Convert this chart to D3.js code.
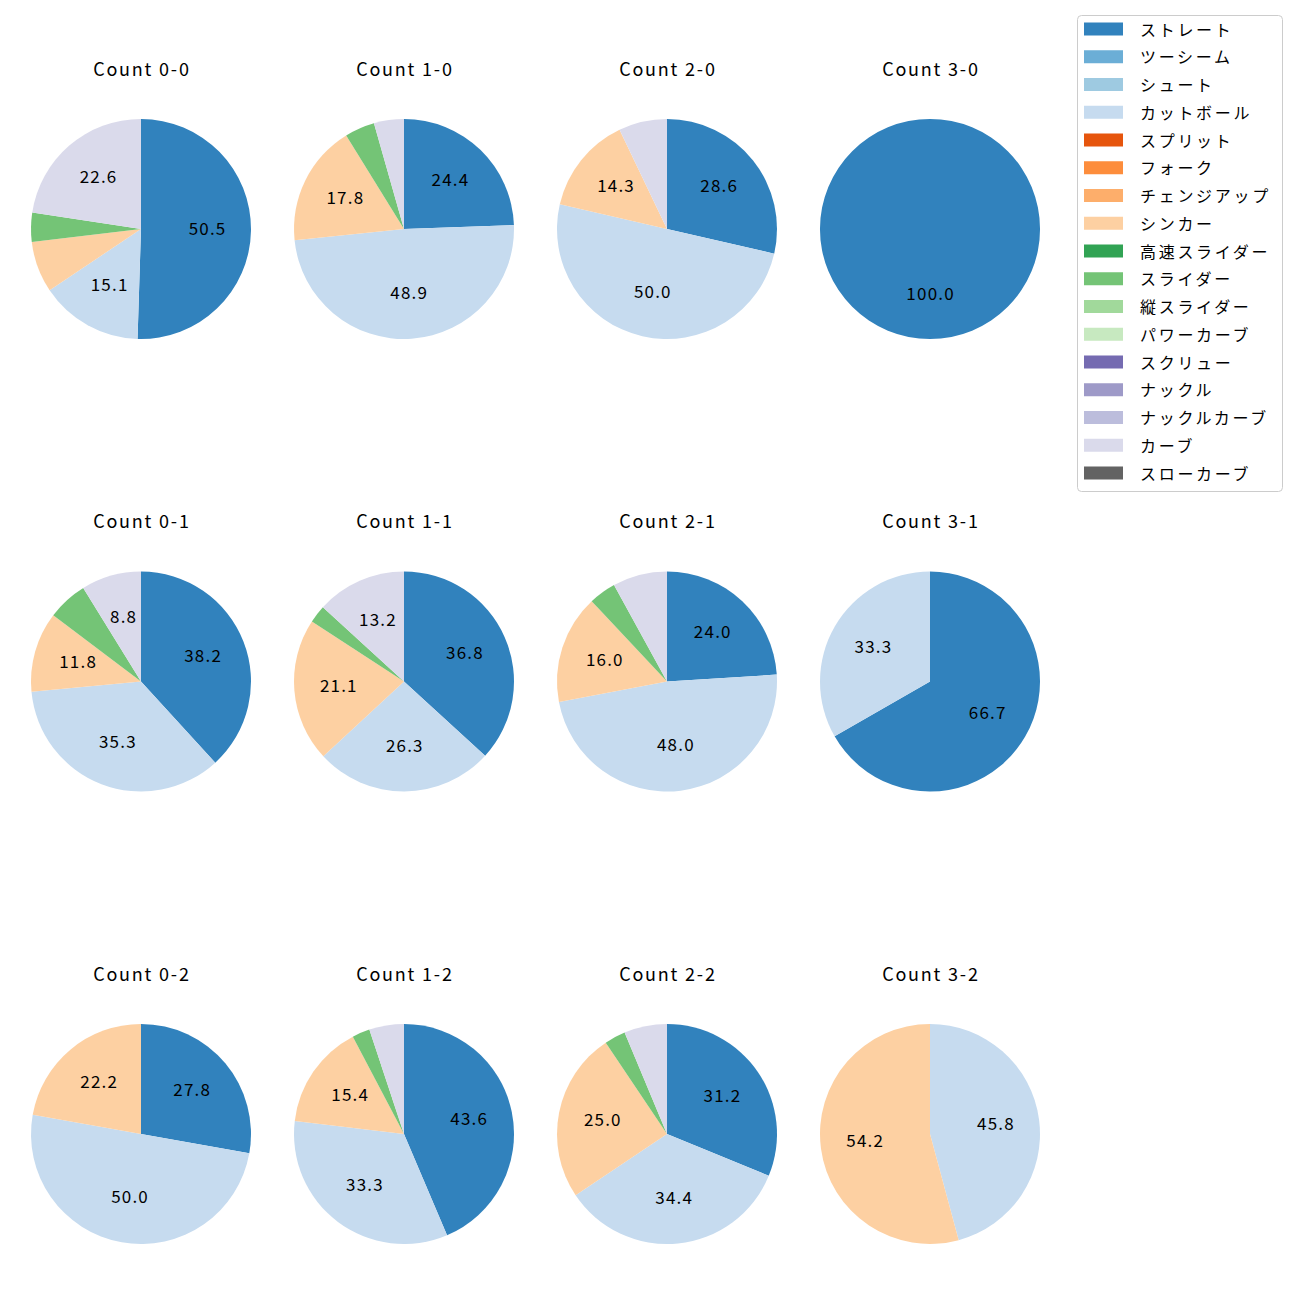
<!DOCTYPE html>
<html><head><meta charset="utf-8">
<script src="https://cdn.jsdelivr.net/npm/d3@7"></script>
<style>body{margin:0;background:#fff}svg{display:block}</style>
</head><body>
<script>
const pitchTypes = ["ストレート","ツーシーム","シュート","カットボール","スプリット","フォーク","チェンジアップ","シンカー","高速スライダー","スライダー","縦スライダー","パワーカーブ","スクリュー","ナックル","ナックルカーブ","カーブ","スローカーブ"];
const pitchColors = ["#3182bd","#6baed6","#9ecae1","#c6dbef","#e6550d","#fd8d3c","#fdae6b","#fdd0a2","#31a354","#74c476","#a1d99b","#c7e9c0","#756bb1","#9e9ac8","#bcbddc","#dadaeb","#636363"];
const countLabels = ["Count 0-0","Count 1-0","Count 2-0","Count 3-0","Count 0-1","Count 1-1","Count 2-1","Count 3-1","Count 0-2","Count 1-2","Count 2-2","Count 3-2"];
// percentages per count, in countLabels order
const straight  = [50.5, 24.4, 28.6, 100.0, 38.2, 36.8, 24.0, 66.7, 27.8, 43.6, 31.2, 0];
const cutball   = [15.1, 48.9, 50.0, 0,     35.3, 26.3, 48.0, 33.3, 50.0, 33.3, 34.4, 45.8];
const sinker    = [7.5,  17.8, 14.3, 0,     11.8, 21.1, 16.0, 0,    22.2, 15.4, 25.0, 54.2];
const slider    = [4.3,  4.4,  0,    0,     5.9,  2.6,  4.0,  0,    0,    2.6,  3.1,  0];
const curve     = [22.6, 4.4,  7.1,  0,     8.8,  13.2, 8.0,  0,    0,    5.1,  6.3,  0];
const labelThreshold = 8.0;

const W = 1300, H = 1300;
const svg = d3.select("body").append("svg").attr("width", W).attr("height", H);
const font = "'Noto Sans CJK JP', 'DejaVu Sans', sans-serif";

const xPos = d3.scaleLinear().domain([0, 3]).range([141, 930]);
const yPos = d3.scaleLinear().domain([0, 2]).range([229, 1134]);
const R = 110;

const seriesByType = {"ストレート": straight, "カットボール": cutball, "シンカー": sinker, "スライダー": slider, "カーブ": curve};
const color = d3.scaleOrdinal().domain(pitchTypes).range(pitchColors);

const pie = d3.pie().sort(null).value(d => d.v);
const arc = d3.arc().innerRadius(0).outerRadius(R);
const labelArc = d3.arc().innerRadius(R * 0.6).outerRadius(R * 0.6);

const lblLS = 1.2, titleLS = 1.8;
countLabels.forEach((lab, i) => {
  const col = i % 4, row = Math.floor(i / 4);
  const cx = xPos(col), cy = yPos(row);
  const data = pitchTypes.map(t => ({t, v: seriesByType[t] ? seriesByType[t][i] : 0})).filter(d => d.v > 0);
  const g = svg.append("g").attr("transform", `translate(${cx},${cy})`);
  const arcs = pie(data);
  g.selectAll("path").data(arcs).join("path")
    .attr("d", arc).attr("fill", d => color(d.data.t));
  g.selectAll("text.lbl").data(arcs.filter(d => d.data.v > labelThreshold)).join("text")
    .attr("class", "lbl")
    .attr("transform", d => { const c = labelArc.centroid(d); return `translate(${c[0] + lblLS / 2},${c[1] + 4.5})`; })
    .attr("text-anchor", "middle")
    .attr("font-family", font).attr("font-size", 17).attr("letter-spacing", lblLS).attr("fill", "#000")
    .text(d => d.data.v.toFixed(1));
  svg.append("text").attr("x", cx + titleLS / 2).attr("y", cy - 153.3)
    .attr("text-anchor", "middle")
    .attr("font-family", font).attr("font-size", 18).attr("letter-spacing", titleLS).attr("fill", "#000")
    .text(lab);
});

// legend
const lg = svg.append("g");
lg.append("rect").attr("x", 1077.5).attr("y", 15.5).attr("width", 205).attr("height", 476)
  .attr("rx", 4).attr("fill", "#fff").attr("stroke", "#cccccc").attr("stroke-width", 1);
const ly = d3.scaleLinear().domain([0, pitchTypes.length - 1]).range([29, 473]);
pitchTypes.forEach((t, i) => {
  lg.append("rect").attr("x", 1084).attr("y", ly(i) - 6.5).attr("width", 39).attr("height", 13).attr("fill", color(t));
  lg.append("text").attr("x", 1140).attr("y", ly(i) - 0.5).attr("dominant-baseline", "central")
    .attr("font-family", font).attr("font-size", 16).attr("letter-spacing", 2.7).attr("fill", "#000").text(t);
});
</script>
</body></html>
